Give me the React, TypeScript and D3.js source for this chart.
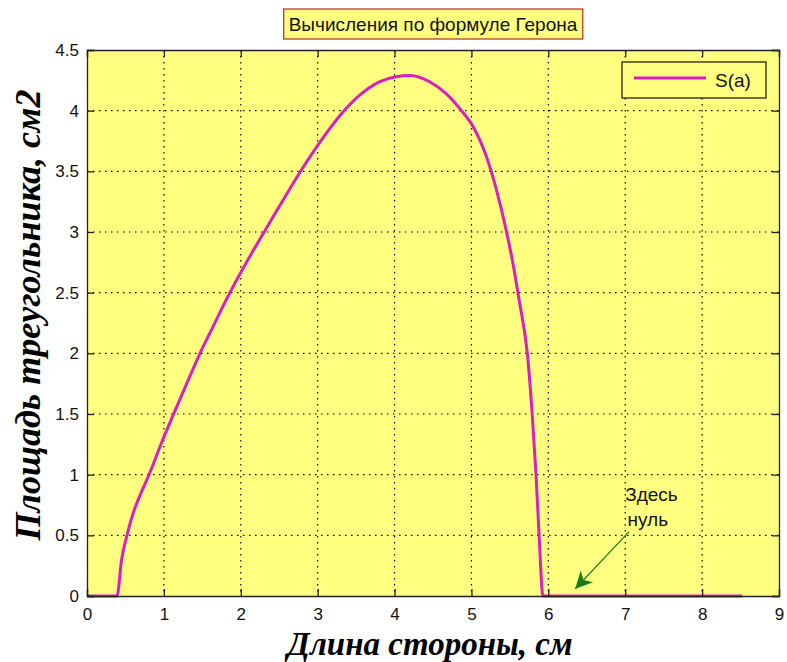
import React, { useEffect, useRef } from 'react';
import * as d3 from 'd3';

// side length, cm
const sideA = [0, 0.39, 0.45, 0.52, 0.62, 0.69, 0.82, 0.98, 1.12, 1.29, 1.47, 1.64, 1.81, 2.51, 2.68, 3.03, 3.29, 3.55, 3.81, 4.02, 4.2, 4.45, 4.67, 4.87, 5.02, 5.19, 5.32, 5.45, 5.54, 5.62, 5.73, 5.79, 5.84, 5.88, 5.93, 8.52];
// area S(a), cm2
const areaS = [0, 0, 0.3, 0.5, 0.72, 0.83, 1.02, 1.28, 1.49, 1.74, 2.0, 2.22, 2.44, 3.22, 3.4, 3.74, 3.96, 4.13, 4.24, 4.28, 4.29, 4.24, 4.14, 4.0, 3.87, 3.63, 3.36, 3.02, 2.74, 2.44, 1.98, 1.5, 1.0, 0.5, 0, 0];

const xTicks = [0, 1, 2, 3, 4, 5, 6, 7, 8, 9];
const yTicks = [0, 0.5, 1, 1.5, 2, 2.5, 3, 3.5, 4, 4.5];

const titleText = 'Вычисления по формуле Герона';
const xLabel = 'Длина стороны, см';
const yLabel = 'Площадь треугольника, см2';
const legendLabel = 'S(a)';
const noteLines = ['Здесь', 'нуль'];

const W = 787;
const H = 662;

export default function App() {
  const svgRef = useRef<SVGSVGElement | null>(null);

  useEffect(() => {
    const svg = d3.select(svgRef.current);
    svg.selectAll('*').remove();

    const margin = { top: 50, right: 8, bottom: 66, left: 87 };
    const innerW = W - margin.left - margin.right;
    const innerH = H - margin.top - margin.bottom;
    const sans = '"Liberation Sans", Arial, sans-serif';
    const serif = '"Liberation Serif", "Times New Roman", serif';
    const yellow = '#ffff80';
    const magenta = '#d91fbf';

    svg.append('rect').attr('width', W).attr('height', H).attr('fill', '#ffffff');

    const x = d3.scaleLinear().domain([0, 9]).range([0, innerW]);
    const y = d3.scaleLinear().domain([0, 4.5]).range([innerH, 0]);

    const g = svg.append('g').attr('transform', `translate(${margin.left},${margin.top})`);

    g.append('rect').attr('width', innerW).attr('height', innerH).attr('fill', yellow);

    // dotted grid
    g.append('g')
      .selectAll('line')
      .data(xTicks.slice(1, -1))
      .enter()
      .append('line')
      .attr('x1', d => x(d)).attr('x2', d => x(d))
      .attr('y1', 0).attr('y2', innerH)
      .attr('stroke', '#000').attr('stroke-width', 1.2)
      .attr('stroke-dasharray', '1.5,4.5');
    g.append('g')
      .selectAll('line')
      .data(yTicks.slice(1, -1))
      .enter()
      .append('line')
      .attr('y1', d => y(d)).attr('y2', d => y(d))
      .attr('x1', 0).attr('x2', innerW)
      .attr('stroke', '#000').attr('stroke-width', 1.2)
      .attr('stroke-dasharray', '1.5,4.5');

    // curve
    const pts = sideA.map((a, i) => [a, areaS[i]] as [number, number]);
    const line = d3.line<[number, number]>()
      .x(d => x(d[0]))
      .y(d => y(d[1]))
      .curve(d3.curveMonotoneX);
    g.append('path')
      .datum(pts)
      .attr('d', line)
      .attr('fill', 'none')
      .attr('stroke', magenta)
      .attr('stroke-width', 3)
      .attr('stroke-linejoin', 'round');

    // axes, ticks inward on all sides (drawn over the curve)
    const tickLen = 7;
    const bottomAxis = d3.axisBottom(x).tickValues(xTicks).tickSize(-tickLen).tickPadding(12).tickFormat(d3.format('d'));
    const topAxis = d3.axisTop(x).tickValues(xTicks).tickSize(-tickLen).tickFormat(() => '');
    const leftAxis = d3.axisLeft(y).tickValues(yTicks).tickSize(-tickLen).tickPadding(8).tickFormat(d => String(d));
    const rightAxis = d3.axisRight(y).tickValues(yTicks).tickSize(-tickLen).tickFormat(() => '');

    const styleAxis = (sel: any) => {
      sel.select('.domain').attr('stroke', '#222').attr('stroke-width', 1.3);
      sel.selectAll('.tick line').attr('stroke', '#222').attr('stroke-width', 1.3);
      sel.selectAll('.tick text').attr('font-family', sans).attr('font-size', 17).attr('fill', '#111');
    };

    g.append('g').attr('transform', `translate(0,${innerH})`).call(bottomAxis).call(styleAxis);
    g.append('g').call(topAxis).call(styleAxis);
    g.append('g').call(leftAxis).call(styleAxis);
    g.append('g').attr('transform', `translate(${innerW},0)`).call(rightAxis).call(styleAxis);

    // annotation
    const note = g.append('text')
      .attr('font-family', sans)
      .attr('font-size', 19)
      .attr('fill', '#111');
    note.append('tspan').attr('x', x(7.0)).attr('y', y(0.78)).text(noteLines[0]);
    note.append('tspan').attr('x', x(7.03)).attr('y', y(0.58)).text(noteLines[1]);

    svg.append('defs').append('marker')
      .attr('id', 'arrowHead')
      .attr('viewBox', '0 0 10 10')
      .attr('refX', 10).attr('refY', 5)
      .attr('markerUnits', 'userSpaceOnUse')
      .attr('markerWidth', 22).attr('markerHeight', 17)
      .attr('orient', 'auto')
      .append('path')
      .attr('d', 'M0,0 L10,5 L0,10 L3,5 Z')
      .attr('fill', '#1b7a12');

    g.append('line')
      .attr('x1', x(7.05)).attr('y1', y(0.53))
      .attr('x2', x(6.35)).attr('y2', y(0.06))
      .attr('stroke', '#1b7a12').attr('stroke-width', 1.2)
      .attr('marker-end', 'url(#arrowHead)');

    // legend
    const lg = g.append('g').attr('transform', `translate(${innerW - 157},${12})`);
    lg.append('rect').attr('width', 144).attr('height', 36)
      .attr('fill', yellow).attr('stroke', '#111').attr('stroke-width', 1.2);
    lg.append('line').attr('x1', 12).attr('x2', 84).attr('y1', 16).attr('y2', 16)
      .attr('stroke', magenta).attr('stroke-width', 3);
    lg.append('text').attr('x', 93).attr('y', 25)
      .attr('font-family', sans).attr('font-size', 19).attr('fill', '#111')
      .text(legendLabel);

    // title in a box
    const titleBox = svg.append('rect')
      .attr('fill', yellow).attr('stroke', '#c0392b').attr('stroke-width', 1.3);
    const title = svg.append('text')
      .attr('x', margin.left + innerW / 2).attr('y', 31)
      .attr('text-anchor', 'middle')
      .attr('font-family', sans).attr('font-size', 19).attr('fill', '#111')
      .text(titleText);
    const tb = (title.node() as SVGTextElement).getBBox();
    titleBox
      .attr('x', tb.x - 5).attr('y', 9)
      .attr('width', tb.width + 10).attr('height', 30);

    // axis labels
    svg.append('text')
      .attr('x', margin.left + innerW / 2 - 3).attr('y', 655)
      .attr('text-anchor', 'middle')
      .attr('font-family', serif).attr('font-weight', 'bold').attr('font-style', 'italic')
      .attr('font-size', 33).attr('fill', '#000')
      .text(xLabel);
    svg.append('text')
      .attr('transform', `translate(40,${margin.top + innerH / 2 - 8}) rotate(-90)`)
      .attr('text-anchor', 'middle')
      .attr('font-family', serif).attr('font-weight', 'bold').attr('font-style', 'italic')
      .attr('font-size', 36).attr('fill', '#000')
      .text(yLabel);
  }, []);

  return (
    <div style={{ position: 'absolute', left: 0, top: 0 }}>
      <svg ref={svgRef} width={W} height={H} style={{ display: 'block' }}></svg>
    </div>
  );
}
